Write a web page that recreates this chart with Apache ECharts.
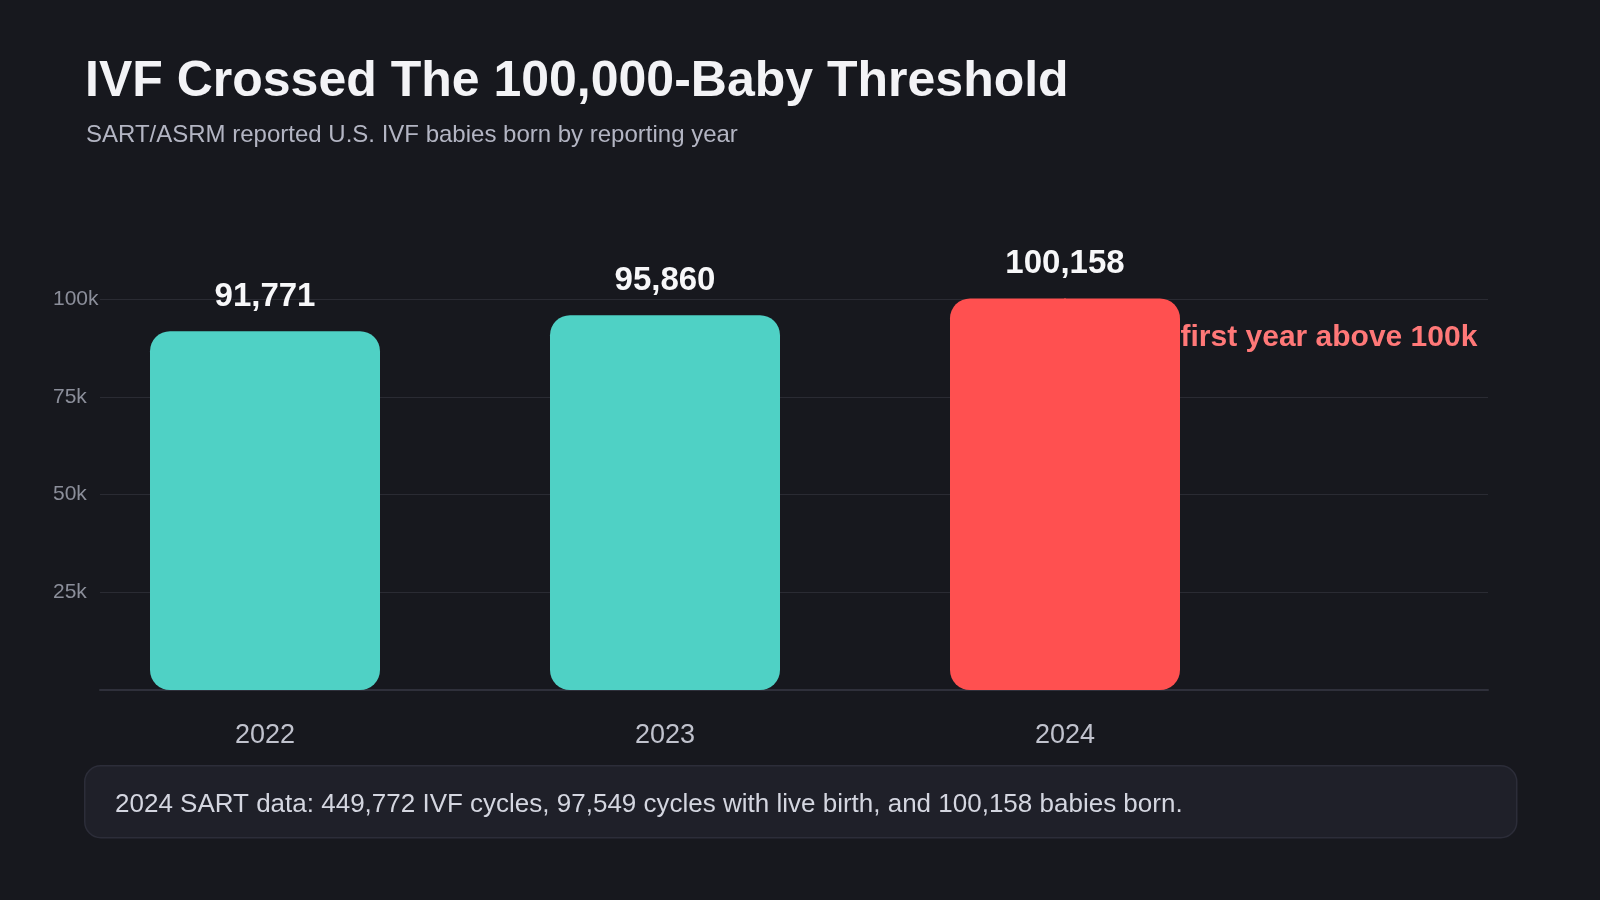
<!DOCTYPE html>
<html lang="en">
<head>
    <meta charset="UTF-8">
    <title>IVF babies born</title>
    <script src="https://cdn.jsdelivr.net/npm/echarts@6/dist/echarts.min.js"></script>
    <style>
        html, body {
            margin: 0;
            padding: 0;
            background: #17181e;
        }

        #main {
            width: 1600px;
            height: 900px;
        }
    </style>
</head>
<body>
<div id="main"></div>
<script>
    // data
    var years = ['2022', '2023', '2024'];
    var babies = [91771, 95860, 100158];
    var highlightYear = '2024';
    var yTicks = [25000, 50000, 75000, 100000];
    var noteText = 'first year above 100k';
    var footText = '2024 SART data: 449,772 IVF cycles, 97,549 cycles with live birth, and 100,158 babies born.';

    var font = "'Liberation Sans', Arial, sans-serif";
    var bg = '#17181e';
    var teal = '#4fd1c5';
    var red = '#ff5050';

    var chart = echarts.init(document.getElementById('main'));

    var barData = [];
    var noteData = [];
    for (var i = 0; i < years.length; i++) {
        barData.push({
            value: babies[i],
            itemStyle: {color: years[i] === highlightYear ? red : teal}
        });
        // the note sits only next to the highlighted bar
        noteData.push(years[i] === highlightYear ? babies[i] : null);
    }

    var option = {
        backgroundColor: bg,
        textStyle: {fontFamily: font},
        title: [{
            text: 'IVF Crossed The 100,000-Baby Threshold',
            left: 80,
            top: 52,
            textStyle: {color: '#f3f3f6', fontSize: 50, fontWeight: 'bold', fontFamily: font}
        }, {
            text: 'SART/ASRM reported U.S. IVF babies born by reporting year',
            left: 81,
            top: 118,
            textStyle: {color: '#b3b5c3', fontSize: 24, fontWeight: 'normal', fontFamily: font}
        }],
        // grid 0 carries the value scale and gridlines, grid 1 carries the bars
        grid: [
            {left: 100, right: 112, top: 299, bottom: 210},
            {left: 65, width: 1200, top: 299, bottom: 210}
        ],
        xAxis: [{
            type: 'category',
            gridIndex: 0,
            data: years,
            axisLabel: {show: false},
            axisTick: {show: false},
            axisLine: {lineStyle: {color: '#2f303b', width: 2}}
        }, {
            type: 'category',
            gridIndex: 1,
            data: years,
            axisLine: {show: false},
            axisTick: {show: false},
            axisLabel: {
                color: '#c0c2cd',
                fontSize: 27,
                margin: 32,
                fontFamily: font
            }
        }],
        yAxis: [{
            type: 'value',
            gridIndex: 0,
            min: 0,
            max: yTicks[yTicks.length - 1],
            interval: yTicks[0],
            axisLine: {show: false},
            axisTick: {show: false},
            splitLine: {lineStyle: {color: '#2a2b33', width: 1}},
            axisLabel: {
                color: '#8b8e9a',
                fontSize: 21,
                align: 'left',
                margin: 47,
                padding: [8, 0, 0, 0],
                fontFamily: font,
                formatter: function (v) {
                    return v === 0 ? '' : (v / 1000) + 'k';
                }
            }
        }, {
            type: 'value',
            gridIndex: 1,
            min: 0,
            max: yTicks[yTicks.length - 1],
            interval: yTicks[0],
            show: false,
            splitLine: {show: false}
        }],
        series: [{
            name: 'IVF babies born',
            type: 'bar',
            xAxisIndex: 1,
            yAxisIndex: 1,
            barWidth: 230,
            clip: false,
            data: barData,
            itemStyle: {borderRadius: 20},
            label: {
                show: true,
                position: 'top',
                distance: 18,
                color: '#f7f7f9',
                fontSize: 33,
                fontWeight: 'bold',
                fontFamily: font,
                formatter: function (p) {
                    return p.value.toLocaleString('en-US');
                }
            },
            emphasis: {disabled: true},
            z: 2
        }, {
            name: 'note',
            type: 'scatter',
            xAxisIndex: 1,
            yAxisIndex: 1,
            data: noteData,
            symbol: 'rect',
            symbolSize: 1,
            clip: false,
            silent: true,
            itemStyle: {color: red, opacity: 1},
            label: {
                show: true,
                position: 'right',
                distance: 115,
                offset: [0, 39],
                color: '#ff7878',
                opacity: 1,
                fontSize: 30,
                fontWeight: 'bold',
                fontFamily: font,
                formatter: noteText
            },
            z: 1
        }],
        graphic: [{
            type: 'rect',
            left: 84,
            top: 765,
            shape: {width: 1432, height: 72, r: 16},
            style: {fill: '#1f2029', stroke: '#2c2d39', lineWidth: 1.5},
            z: 0
        }, {
            type: 'text',
            left: 115,
            top: 792,
            style: {
                text: footText,
                fill: '#d4d6e0',
                fontSize: 26,
                fontFamily: font
            },
            z: 1
        }]
    };

    chart.setOption(option);

    window.addEventListener('resize', function () {
        chart.resize();
    });
</script>
</body>
</html>
